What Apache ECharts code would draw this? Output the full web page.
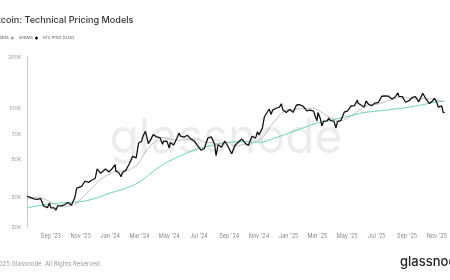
<!DOCTYPE html>
<html><head><meta charset="utf-8">
<script src="https://cdn.jsdelivr.net/npm/echarts@6/dist/echarts.min.js"></script>
<style>html,body{margin:0;padding:0;background:#fff;overflow:hidden}#c{width:450px;height:280px}</style>
</head><body><div id="c"></div>
<script>
// BTC price (thousand USD)
const btcDates = [
'2023-07-14','2023-07-21','2023-07-28','2023-08-04','2023-08-11','2023-08-17','2023-08-18','2023-08-25','2023-08-29','2023-09-01',
'2023-09-08','2023-09-11','2023-09-15','2023-09-22','2023-09-29','2023-10-06','2023-10-13','2023-10-20','2023-10-24','2023-10-27',
'2023-11-03','2023-11-10','2023-11-17','2023-11-24','2023-12-01','2023-12-05','2023-12-08','2023-12-12','2023-12-15','2023-12-22',
'2023-12-29','2024-01-05','2024-01-11','2024-01-12','2024-01-19','2024-01-23','2024-01-26','2024-02-02','2024-02-09','2024-02-16',
'2024-02-23','2024-02-28','2024-03-01','2024-03-05','2024-03-08','2024-03-13','2024-03-15','2024-03-19','2024-03-22','2024-03-29',
'2024-04-05','2024-04-09','2024-04-12','2024-04-17','2024-04-19','2024-04-26','2024-05-01','2024-05-03','2024-05-10','2024-05-17',
'2024-05-21','2024-05-24','2024-05-31','2024-06-07','2024-06-14','2024-06-21','2024-06-28','2024-07-05','2024-07-12','2024-07-19',
'2024-07-26','2024-07-29','2024-08-02','2024-08-05','2024-08-09','2024-08-16','2024-08-23','2024-08-30','2024-09-06','2024-09-13',
'2024-09-20','2024-09-27','2024-10-04','2024-10-10','2024-10-18','2024-10-25','2024-10-29','2024-11-01','2024-11-08','2024-11-12',
'2024-11-15','2024-11-22','2024-11-26','2024-11-29','2024-12-06','2024-12-09','2024-12-13','2024-12-17','2024-12-20','2024-12-27',
'2024-12-30','2025-01-03','2025-01-07','2025-01-10','2025-01-13','2025-01-17','2025-01-20','2025-01-21','2025-01-24','2025-01-27',
'2025-01-31','2025-02-03','2025-02-07','2025-02-14','2025-02-21','2025-02-25','2025-02-28','2025-03-02','2025-03-07','2025-03-10',
'2025-03-14','2025-03-21','2025-03-24','2025-03-28','2025-04-04','2025-04-08','2025-04-11','2025-04-18','2025-04-25','2025-05-02',
'2025-05-09','2025-05-16','2025-05-22','2025-05-23','2025-05-30','2025-06-05','2025-06-09','2025-06-13','2025-06-20','2025-06-22',
'2025-06-27','2025-07-04','2025-07-11','2025-07-14','2025-07-18','2025-07-25','2025-08-01','2025-08-02','2025-08-08','2025-08-13',
'2025-08-15','2025-08-22','2025-08-29','2025-09-01','2025-09-05','2025-09-12','2025-09-18','2025-09-19','2025-09-25','2025-09-26',
'2025-10-03','2025-10-06','2025-10-10','2025-10-17','2025-10-24','2025-10-27','2025-10-31','2025-11-04','2025-11-07','2025-11-11',
'2025-11-14','2025-11-17'];
const btcPrice = [
30.3,29.9,29.3,29.1,29.4,26.6,26.1,26.0,27.7,25.9,
25.9,25.1,26.6,26.6,27.0,27.9,26.85,29.7,33.9,33.9,
34.7,37.3,36.6,37.7,38.7,44.0,43.8,41.4,42.0,43.9,
42.1,44.2,46.6,42.8,41.6,39.5,41.8,43.2,47.1,52.1,
51.0,62.4,62.4,63.8,68.3,73.1,69.4,61.9,63.8,69.9,
67.8,69.1,67.1,61.3,63.8,64.0,58.3,62.9,60.8,67.0,
71.4,68.5,67.5,69.3,66.0,64.1,60.3,56.6,57.9,66.7,
67.9,66.8,61.4,52.5,60.9,58.9,64.1,59.1,53.9,60.5,
63.2,65.8,62.1,60.3,68.4,66.6,72.7,69.5,76.5,88.7,
91.0,98.9,91.9,97.4,99.9,97.4,101.4,106.1,97.7,94.2,
92.6,98.1,96.9,94.5,94.5,104.4,102.0,106.1,104.8,102.1,
102.4,101.4,96.5,97.5,96.1,88.7,84.4,94.3,86.7,78.6,
84.0,84.1,87.5,84.4,83.8,76.3,83.4,84.5,94.7,96.5,
103.0,103.5,111.7,107.3,104.0,101.6,110.3,105.9,103.3,101.0,
107.1,108.0,117.5,119.8,117.9,117.6,113.3,112.5,116.7,123.3,
117.4,116.9,108.4,109.2,110.7,115.9,117.1,115.7,109.0,109.7,
122.2,124.7,113.2,106.4,111.0,114.1,109.6,101.5,103.3,103.0,
94.5,94.0];
// 50DMA (thousand USD), weekly samples from ma50Start
const ma50Start = '2023-07-14';
const ma50 = [
29.2,29.4,29.6,30.0,29.8,29.2,28.6,28.0,27.4,27.0,26.6,26.3,26.6,26.7,27.2,28.4,29.5,31.0,32.4,33.8,35.5,37.5,38.7,40.0,40.7,
41.8,42.5,42.9,42.6,42.8,43.3,44.7,45.7,48.5,52.3,56.2,59.2,62.4,64.7,67.0,67.2,66.5,65.6,65.2,64.8,64.9,64.9,65.7,66.0,66.2,66.1,
64.6,63.1,63.0,62.8,62.1,61.7,61.5,62.5,62.7,60.9,59.8,60.1,60.8,61.2,61.0,62.3,64.1,65.4,67.3,70.9,76.2,81.2,85.7,90.7,94.7,97.2,
98.2,97.6,98.6,99.3,99.4,99.3,99.7,99.5,98.0,95.5,92.5,89.9,88.2,86.2,84.4,84.4,85.6,87.3,90.0,92.8,96.1,99.1,101.9,103.5,104.5,105.1,
105.7,107.2,109.1,111.0,112.1,114.0,115.5,116.8,115.5,114.4,114.2,114.5,113.5,114.2,113.7,113.4,113.4,112.5,110.8,108.6];
// 200DMA (thousand USD)
const ma200Dates = ['2023-07-14','2023-08-01','2023-09-01','2023-10-01','2023-11-01','2023-12-01','2024-01-01','2024-02-01','2024-03-01','2024-04-01',
'2024-05-01','2024-06-01','2024-07-01','2024-08-01','2024-09-01','2024-10-01','2024-11-01','2024-12-01','2025-01-01','2025-02-01',
'2025-03-01','2025-04-01','2025-05-01','2025-06-01','2025-07-01','2025-08-01','2025-09-01','2025-10-01','2025-11-01','2025-11-17'];
const ma200 = [25.9,26.5,27.4,27.8,28.2,29.5,31.7,33.8,36.9,43.1,
48.8,53.7,57.9,60.8,63.0,63.5,63.1,66.4,71.4,76.8,
81.9,85.5,89.2,93.8,96.1,98.4,101.0,104.5,109.0,109.8];
const xTicks = ['2023-09-01','2023-11-01','2024-01-01','2024-03-01','2024-05-01','2024-07-01','2024-09-01','2024-11-01','2025-01-01','2025-03-01','2025-05-01','2025-07-01','2025-09-01','2025-11-01'];
const xRange = ['2023-07-14','2025-11-18'];
const yTicks = [20,30,50,70,100,200];
const monthNames = ['Jan','Feb','Mar','Apr','May','Jun','Jul','Aug','Sep','Oct','Nov','Dec'];

const ms = s => new Date(s + 'T00:00:00').getTime();
const DAY = 86400000;
const ma50Data = ma50.map((v,i)=>[ms(ma50Start) + 7*i*DAY, v]);
const btcData = btcDates.map((d,i)=>[ms(d), btcPrice[i]]);
const ma200Data = ma200Dates.map((d,i)=>[ms(d), ma200[i]]);

const FONT = 'Inter, "Noto Sans", sans-serif';
const chart = echarts.init(document.getElementById('c'), null, {renderer:'canvas'});
chart.setOption({
  animation: false,
  backgroundColor: '#fff',
  textStyle: {fontFamily: FONT},
  title: {text: 'Bitcoin: Technical Pricing Models', left: -15.5, top: 11,
    textStyle: {fontSize: 9.1, fontWeight: 500, color: '#333', fontFamily: FONT}},
  legend: {left: -21, top: 31, itemWidth: 3, itemHeight: 3, itemGap: 2, icon: 'circle',
    textStyle: {fontSize: 4, color: '#555', fontFamily: FONT},
    data: ['200DMA','50DMA','BTC Price [USD]']},
  graphic: [
    {type:'text', left: -12, top: 261, style:{text:'© 2025 Glassnode. All Rights Reserved.', fontSize: 6, fill:'#999', fontFamily: FONT}},
    {type:'text', left: 400, top: 256, style:{text:'glassnode', fontSize: 13, fontWeight: 500, fill:'#222', fontFamily: FONT}},
    {type:'text', x: 226, y: 139, z: -10, silent: true, style:{text:'glassnode', fontSize: 48, fontWeight: 400, fill:'rgba(0,0,0,0.075)', align:'center', verticalAlign:'middle', fontFamily: FONT}}
  ],
  grid: {left: 27, right: 3, top: 57, bottom: 53},
  xAxis: {type:'value', min: ms(xRange[0]), max: ms(xRange[1]),
    axisLine:{show:false}, axisTick:{show:false}, splitLine:{show:false},
    axisLabel:{customValues: xTicks.map(ms), fontSize: 5.5, color:'#888', margin: 6, fontFamily: FONT,
      formatter: v => { const d = new Date(v); return monthNames[d.getMonth()] + " '" + String(d.getFullYear()).slice(2); }}},
  yAxis: {type:'log', logBase: 10, min: 20, max: 200,
    axisLine:{show:true, lineStyle:{color:'#c8c8c8', width: 1}}, axisTick:{show:false}, splitLine:{show:false},
    axisLabel:{customValues: yTicks, fontSize: 5, color:'#999', margin: 6, fontFamily: FONT, formatter: v => Math.round(v) + 'K'}},
  series: [
    {name:'200DMA', type:'line', data: ma200Data, showSymbol:false, smooth: true, lineStyle:{color:'#5cc9a7', width: 0.9}, itemStyle:{color:'#5cc9a7'}, z: 3},
    {name:'50DMA', type:'line', data: ma50Data, showSymbol:false, smooth: true, lineStyle:{color:'#a0a0a0', width: 0.7}, itemStyle:{color:'#a0a0a0'}, z: 4},
    {name:'BTC Price [USD]', type:'line', data: btcData, showSymbol:false, lineStyle:{color:'#111', width: 1.3}, itemStyle:{color:'#111'}, z: 5}
  ]
});
</script></body></html>
